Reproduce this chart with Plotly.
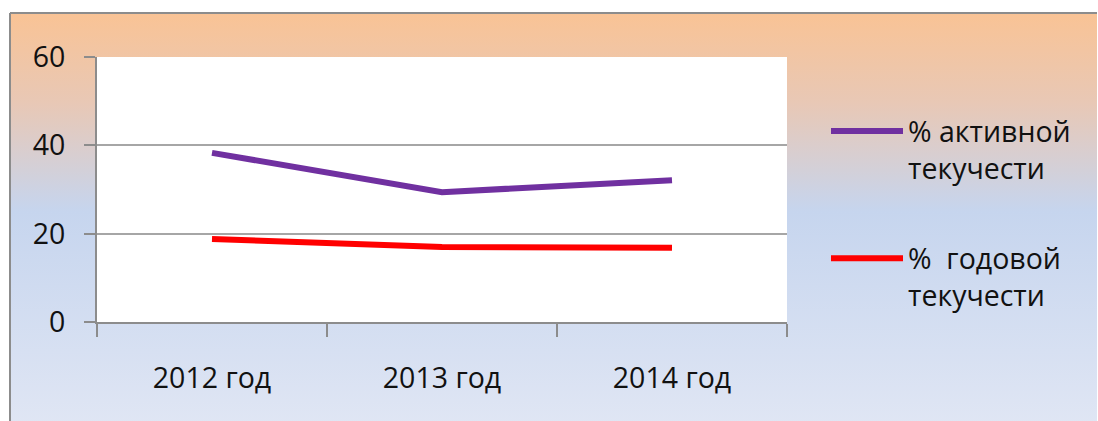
import base64
import plotly.graph_objects as go

categories = ["2012 год", "2013 год", "2014 год"]
active_turnover = [38.3, 29.4, 32.1]
annual_turnover = [18.8, 17.0, 16.8]
series_names = ["% активной<br>текучести", "%  годовой<br>текучести"]
y_ticks = [0, 20, 40, 60]

W, H = 1098, 421
L, R, T, B = 97, 787, 57, 322
pw, ph = R - L, B - T

def px_x(px):
    return (px - L) / pw

def px_y(py):
    return (B - py) / ph

svg = (
    '<svg xmlns="http://www.w3.org/2000/svg" width="100" height="100" preserveAspectRatio="none">'
    '<defs><linearGradient id="g" x1="0" y1="0" x2="0" y2="1">'
    '<stop offset="0" stop-color="#F9C395"/>'
    '<stop offset="0.22" stop-color="#E8C8B6"/>'
    '<stop offset="0.48" stop-color="#C6D5EE"/>'
    '<stop offset="1" stop-color="#E0E6F4"/>'
    '</linearGradient></defs>'
    '<rect width="100" height="100" fill="url(#g)"/></svg>'
)
src = "data:image/svg+xml;base64," + base64.b64encode(svg.encode()).decode()

font = "Open Sans, Liberation Sans, sans-serif"
fs = 28.5

fig = go.Figure()
fig.add_trace(go.Scatter(x=categories, y=active_turnover, mode="lines", name=series_names[0],
                         line=dict(color="#7030A0", width=6), legendgroup="a"))
fig.add_trace(go.Scatter(x=categories, y=annual_turnover, mode="lines", name=series_names[1],
                         line=dict(color="#FF0000", width=6), legendgroup="b"))

fig.update_layout(
    width=W, height=H,
    margin=dict(l=L, r=W - R, t=T, b=H - B, pad=0),
    paper_bgcolor="white",
    plot_bgcolor="white",
    font=dict(family=font, size=fs, color="#111111"),
    showlegend=True,
    hovermode=False,
    legend=dict(x=px_x(826), xanchor="left", y=px_y(106), yanchor="top",
                valign="top", bgcolor="rgba(0,0,0,0)", font=dict(size=fs),
                itemwidth=72, tracegroupgap=50, traceorder="grouped"),
    images=[dict(source=src, xref="paper", yref="paper",
                 x=px_x(10), y=px_y(13), sizex=(1097 - 10) / pw, sizey=(H + 5 - 13) / ph,
                 xanchor="left", yanchor="top", sizing="stretch", layer="below")],
    shapes=[
        dict(type="rect", xref="paper", yref="paper", x0=0, x1=1, y0=0, y1=1,
             fillcolor="white", line=dict(width=0), layer="below"),
        dict(type="line", xref="paper", yref="paper", x0=px_x(10), x1=px_x(1097),
             y0=px_y(13), y1=px_y(13), line=dict(color="#8C8C8C", width=2), layer="above"),
        dict(type="line", xref="paper", yref="paper", x0=px_x(10), x1=px_x(10),
             y0=px_y(13), y1=px_y(H + 5), line=dict(color="#8C8C8C", width=2), layer="above"),
    ],
)
fig.update_xaxes(type="category", range=[-0.5, 2.5], tickson="boundaries",
                 ticks="outside", ticklen=13, tickcolor="#8C8C8C", tickwidth=2,
                 showline=True, linecolor="#8C8C8C", linewidth=2, showgrid=False,
                 ticklabelstandoff=30, tickfont=dict(size=fs))
fig.update_yaxes(range=[0, 60], tickvals=y_ticks, ticks="outside", ticklen=11,
                 tickcolor="#8C8C8C", tickwidth=2, showline=True, linecolor="#8C8C8C",
                 linewidth=2, showgrid=True, gridcolor="#A6A6A6", gridwidth=2,
                 zeroline=False, ticklabelstandoff=13, tickfont=dict(size=fs))

fig.write_html(
    "out.html",
    config={"displayModeBar": False},
    post_script="document.body.style.margin='0';document.body.style.overflow='hidden';",
)
